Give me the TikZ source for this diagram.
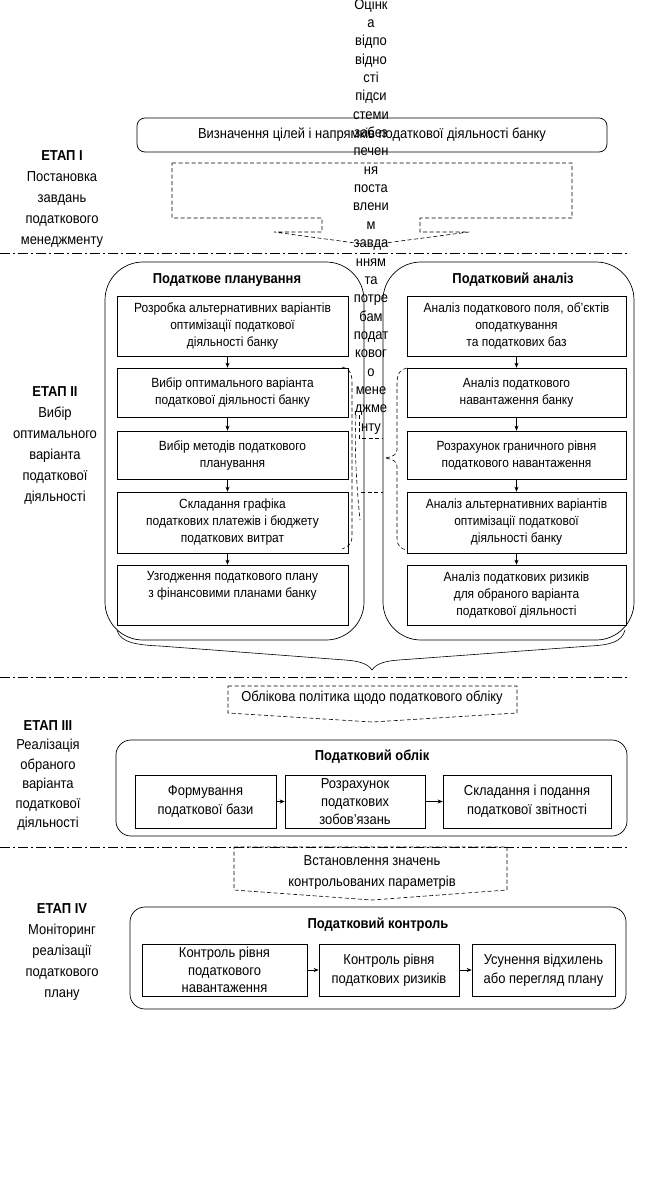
\documentclass[tikz,border=0pt]{standalone}
\usepackage{fontspec}
\setmainfont{Liberation Sans}[FakeStretch=0.9]
\usetikzlibrary{arrows.meta}
\begin{document}
\begin{tikzpicture}[x=1pt,y=-1pt,
  every node/.style={font=\fontsize{14.4}{19}\selectfont, inner sep=1pt},
  box/.style={draw, align=center, line width=0.7pt},
  sbox/.style={box, font=\fontsize{13.3}{17}\selectfont},
  title/.style={font=\fontsize{14.4}{19}\selectfont\bfseries},
  stagelbl/.style={align=center, font=\fontsize{14.4}{21}\selectfont},
  panel/.style={draw, line width=0.7pt, rounded corners=#1},
  dashy/.style={draw, dash pattern=on 4pt off 2.5pt, line width=0.6pt},
  sep/.style={draw, dash pattern=on 10pt off 3pt on 2pt off 3pt, line width=0.6pt},
  arr/.style={-{Stealth[length=5pt,width=4pt]}, line width=0.6pt}
]
\useasboundingbox[fill=white] (0,0) rectangle (656,1178);

% separators
\coordinate (s1a) at (0,253); \coordinate (s1b) at (630,253);
\coordinate (s2a) at (0,677); \coordinate (s2b) at (630,677);
\coordinate (s3a) at (0,847); \coordinate (s3b) at (630,847);
\draw[sep] (s1a) -- (s1b);
\draw[sep] (s2a) -- (s2b);
\draw[sep] (s3a) -- (s3b);

% ===== Stage I =====
\node[stagelbl] (st1) at (62,199) {\textbf{ЕТАП І}\\Постановка\\завдань\\податкового\\менеджменту};
\node[box, rounded corners=8pt, minimum width=470pt, minimum height=34pt] (goal) at (372,135)
  {Визначення цілей і напрямків податкової діяльності банку};
\draw[dashy] (172,163) -- (572,163) -- (572,218) -- (420,218) -- (420,232) -- (469,232)
  -- (370,245) -- (274,232) -- (322,232) -- (322,218) -- (172,218) -- cycle;

% ===== Stage II =====
\node[stagelbl] (st2) at (55,445.5) {\textbf{ЕТАП ІІ}\\Вибір\\оптимального\\варіанта\\податкової\\діяльності};

\draw[panel=38pt] (105,262) rectangle (364,640);
\draw[panel=38pt] (383,262) rectangle (634,640);
\node[title] (tplan) at (227,280) {Податкове планування};
\node[title] (tanal) at (513,280) {Податковий аналіз};

\node[sbox, minimum width=231pt, minimum height=60pt] (l1) at (232.5,326)
  {Розробка альтернативних варіантів\\оптимізації податкової\\діяльності банку};
\node[sbox, minimum width=231pt, minimum height=49pt] (l2) at (232.5,392.5)
  {Вибір оптимального варіанта\\податкової діяльності банку};
\node[sbox, minimum width=231pt, minimum height=48pt] (l3) at (232.5,455)
  {Вибір методів податкового\\планування};
\node[sbox, minimum width=231pt, minimum height=61pt] (l4) at (232.5,522.5)
  {Складання графіка\\податкових платежів і бюджету\\податкових витрат};
\node[sbox, minimum width=231pt, minimum height=60pt] (l5) at (232.5,595)
  {Узгодження податкового плану\\з фінансовими планами банку\\\strut};

\node[sbox, minimum width=219pt, minimum height=60pt] (r1) at (516.5,326)
  {Аналіз податкового поля, об’єктів\\оподаткування\\та податкових баз};
\node[sbox, minimum width=219pt, minimum height=49pt] (r2) at (516.5,392.5)
  {Аналіз податкового\\навантаження банку};
\node[sbox, minimum width=219pt, minimum height=48pt] (r3) at (516.5,455)
  {Розрахунок граничного рівня\\податкового навантаження};
\node[sbox, minimum width=219pt, minimum height=61pt] (r4) at (516.5,522.5)
  {Аналіз альтернативних варіантів\\оптимізації податкової\\діяльності банку};
\node[sbox, minimum width=219pt, minimum height=60pt] (r5) at (516.5,595)
  {Аналіз податкових ризиків\\для обраного варіанта\\податкової діяльності};

\foreach \a/\b in {l1/l2,l2/l3,l3/l4,l4/l5}
  \draw[arr] ([xshift=-5pt]\a.south) -- ([xshift=-5pt]\b.north);
\foreach \a/\b in {r1/r2,r2/r3,r3/r4,r4/r5}
  \draw[arr] (\a.south) -- (\b.north);

% vertical overflowing text column
\node[anchor=north, align=center, inner sep=0pt, font=\fontsize{14.4}{18.35}\selectfont] (col) at (371,-1.5)
  {Оцінк\\а\\відпо\\відно\\сті\\підси\\стеми\\забез\\печен\\ня\\поста\\влени\\м\\завда\\нням\\та\\потре\\бам\\подат\\ковог\\о\\мене\\джме\\нту};

% dashed brackets between the panels
\draw[dashy] (342,367) .. controls (348,368) and (352,372) .. (352,382) -- (352,536)
  .. controls (352,544) and (348,547) .. (342,549);
\draw[dashy] (356,415) .. controls (354,450) and (357,490) .. (360,520);
\draw[dashy] (359,415) -- (359,438) -- (382,438);
\draw[dashy] (361,492) -- (383,492);
\draw[dashy] (407,368) .. controls (400,369) and (397,374) .. (397,384) -- (397,450)
  .. controls (397,455) and (392,457) .. (385,458)
  .. controls (392,459) and (397,461) .. (397,466) -- (397,538)
  .. controls (397,546) and (401,549) .. (407,550);

% brace under the panels
\draw[line width=0.6pt] (117,630) .. controls (120,642) and (135,645) .. (160,646) -- (345,660)
  .. controls (360,661) and (368,664) .. (372,670)
  .. controls (376,664) and (384,661) .. (399,660) -- (590,646)
  .. controls (610,645) and (622,642) .. (625,630);

% ===== Stage III =====
\node[stagelbl, font=\fontsize{14.4}{19.4}\selectfont] (st3) at (48,775.5) {\textbf{ЕТАП ІІІ}\\Реалізація\\обраного\\варіанта\\податкової\\діяльності};
\draw[dashy] (228,686) -- (517,686) -- (517,713) -- (372,722) -- (228,713) -- cycle;
\node (pol) at (372,698) {Облікова політика щодо податкового обліку};
\draw[panel=15pt] (116,740) rectangle (627,836);
\node[title] (tacc) at (372,757) {Податковий облік};
\node[box, minimum width=141pt, minimum height=53pt] (b1) at (205.5,801.5)
  {Формування\\податкової бази};
\node[box, minimum width=140pt, minimum height=53pt, font=\fontsize{14.4}{18}\selectfont] (b2) at (355,801.5)
  {Розрахунок\\податкових\\зобов'язань};
\node[box, minimum width=168pt, minimum height=53pt] (b3) at (527,801.5)
  {Складання і подання\\податкової звітності};
\draw[arr] (b1) -- (b2);
\draw[arr] (b2) -- (b3);

% ===== Stage IV =====
\node[stagelbl] (st4) at (62,952) {\textbf{ЕТАП IV}\\Моніторинг\\реалізації\\податкового\\плану};
\draw[dashy] (234,847) -- (507,847) -- (507,890) -- (372,900) -- (234,890) -- cycle;
\node[align=center, font=\fontsize{14.4}{21}\selectfont] (par) at (372,872.5) {Встановлення значень\\контрольованих параметрів};
\draw[panel=15pt] (130,907) rectangle (626,1009);
\node[title] (tctl) at (378,925) {Податковий контроль};
\node[box, minimum width=165pt, minimum height=52pt, font=\fontsize{14.4}{17.5}\selectfont] (c1) at (224.5,970)
  {Контроль рівня\\податкового\\навантаження};
\node[box, minimum width=140pt, minimum height=52pt] (c2) at (389,970)
  {Контроль рівня\\податкових ризиків};
\node[box, minimum width=143pt, minimum height=52pt] (c3) at (543.5,970)
  {Усунення відхилень\\або перегляд плану};
\draw[arr] (c1) -- (c2);
\draw[arr] (c2) -- (c3);
\end{tikzpicture}
\end{document}
